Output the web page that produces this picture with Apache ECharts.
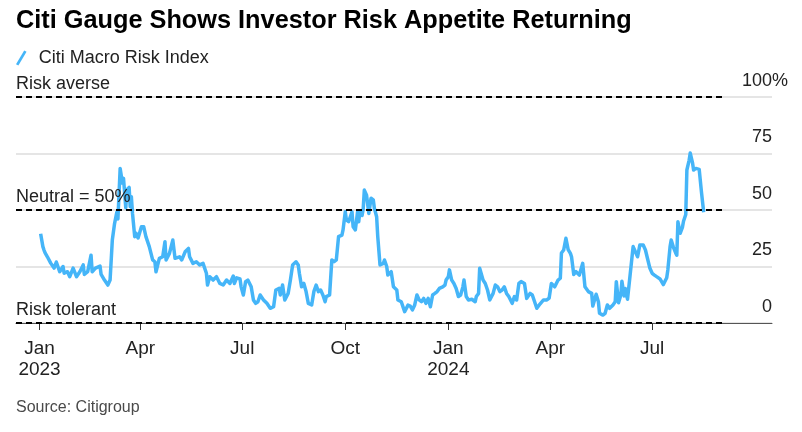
<!DOCTYPE html>
<html><head><meta charset="utf-8">
<script src="https://cdn.jsdelivr.net/npm/echarts@6/dist/echarts.min.js"></script>
<style>html,body{margin:0;padding:0;background:#fff}#c{width:802px;height:432px}</style>
</head><body><div id="c"></div>
<script>
const dates = [
'2023-01-02','2023-01-04','2023-01-05','2023-01-06','2023-01-08','2023-01-11','2023-01-14','2023-01-16','2023-01-19','2023-01-22','2023-01-23','2023-01-26','2023-01-28','2023-01-31',
'2023-02-03','2023-02-06','2023-02-09','2023-02-10','2023-02-13','2023-02-16','2023-02-17','2023-02-20','2023-02-24','2023-02-25','2023-02-28',
'2023-03-03','2023-03-05','2023-03-07','2023-03-09','2023-03-11','2023-03-12','2023-03-14','2023-03-16','2023-03-17','2023-03-19','2023-03-20','2023-03-22','2023-03-23','2023-03-24','2023-03-25','2023-03-27','2023-03-28','2023-03-30',
'2023-04-02','2023-04-04','2023-04-06','2023-04-09','2023-04-12','2023-04-14','2023-04-15','2023-04-18','2023-04-21','2023-04-23','2023-04-24','2023-04-27','2023-04-30',
'2023-05-02','2023-05-06','2023-05-08','2023-05-11','2023-05-14','2023-05-15','2023-05-18','2023-05-21','2023-05-24','2023-05-27','2023-05-30','2023-05-31',
'2023-06-02','2023-06-05','2023-06-08','2023-06-11','2023-06-14','2023-06-17','2023-06-20','2023-06-23','2023-06-24','2023-06-26','2023-06-29','2023-06-30',
'2023-07-02','2023-07-04','2023-07-06','2023-07-09','2023-07-11','2023-07-13','2023-07-15','2023-07-17','2023-07-20','2023-07-23','2023-07-26','2023-07-27','2023-07-29','2023-07-31',
'2023-08-03','2023-08-04','2023-08-06','2023-08-08','2023-08-11','2023-08-13','2023-08-15','2023-08-18','2023-08-20','2023-08-21','2023-08-23','2023-08-25','2023-08-27','2023-08-29',
'2023-09-01','2023-09-03','2023-09-05','2023-09-07','2023-09-09','2023-09-11','2023-09-13','2023-09-14','2023-09-17','2023-09-19','2023-09-21','2023-09-23','2023-09-25','2023-09-28','2023-09-29',
'2023-10-01','2023-10-02','2023-10-04','2023-10-05','2023-10-07','2023-10-08','2023-10-10','2023-10-12','2023-10-13','2023-10-14','2023-10-16','2023-10-17','2023-10-18','2023-10-20','2023-10-22','2023-10-24','2023-10-26','2023-10-27','2023-10-29','2023-10-30',
'2023-11-01','2023-11-04','2023-11-05','2023-11-07','2023-11-08','2023-11-11','2023-11-13','2023-11-16','2023-11-17','2023-11-20','2023-11-22','2023-11-23','2023-11-26','2023-11-28','2023-11-30',
'2023-12-02','2023-12-04','2023-12-06','2023-12-08','2023-12-10','2023-12-12','2023-12-14','2023-12-16','2023-12-18','2023-12-20','2023-12-22','2023-12-24','2023-12-27','2023-12-29','2023-12-30',
'2024-01-01','2024-01-02','2024-01-04','2024-01-06','2024-01-08','2024-01-10','2024-01-12','2024-01-14','2024-01-15','2024-01-17','2024-01-19','2024-01-22','2024-01-25','2024-01-26','2024-01-28','2024-01-29',
'2024-02-01','2024-02-03','2024-02-05','2024-02-07','2024-02-10','2024-02-12','2024-02-14','2024-02-16','2024-02-18','2024-02-20','2024-02-22','2024-02-24','2024-02-27','2024-02-29',
'2024-03-02','2024-03-04','2024-03-06','2024-03-09','2024-03-11','2024-03-14','2024-03-16','2024-03-20','2024-03-23','2024-03-26','2024-03-29','2024-03-31',
'2024-04-02','2024-04-05','2024-04-08','2024-04-10','2024-04-11','2024-04-13','2024-04-15','2024-04-17','2024-04-19','2024-04-20','2024-04-22','2024-04-24','2024-04-27','2024-04-30',
'2024-05-02','2024-05-05','2024-05-08','2024-05-09','2024-05-12','2024-05-14','2024-05-15','2024-05-18','2024-05-20','2024-05-22','2024-05-24','2024-05-27','2024-05-29','2024-05-30',
'2024-06-01','2024-06-03','2024-06-04','2024-06-06','2024-06-07','2024-06-09','2024-06-11','2024-06-12','2024-06-14','2024-06-16','2024-06-18','2024-06-20','2024-06-23','2024-06-25','2024-06-27','2024-06-29',
'2024-07-01','2024-07-03','2024-07-05','2024-07-08','2024-07-09','2024-07-11','2024-07-14','2024-07-15','2024-07-17','2024-07-18','2024-07-20','2024-07-22','2024-07-23','2024-07-24','2024-07-26','2024-07-28','2024-07-29','2024-07-31',
'2024-08-01','2024-08-03','2024-08-04','2024-08-06','2024-08-07','2024-08-09','2024-08-12','2024-08-13','2024-08-14','2024-08-16'
];
const values = [
39.5,33.8,32.3,31,29.3,26.5,24.3,27,22.7,25,22,22.7,20.5,24.3,
20.5,22.7,25.7,21.5,22.7,30,22.7,24.3,25.2,21.5,19,
16.8,19,36.7,44,49,46,68.4,62,64,51,59,60,51.5,55.9,48.6,38.2,39.8,37.6,
42.6,42.6,38.2,33.8,27.9,27.1,22.7,28.6,29.3,36,27.9,30.8,36.7,
28.6,29.3,27.9,31.5,33,29.3,26.4,27.1,25.7,26.4,22,16.8,
20.5,19,20.5,17.5,16.8,19,17.5,20.8,17.5,20,19.5,16,
12.4,18.3,19,16,10.2,8.7,9.4,12.4,10.2,8.7,6.5,5.8,7.2,14.6,
15.3,12.4,16.8,10.2,13.1,19,25.7,27.1,25.7,22,16,17.5,13.9,8.7,
8,14,16.8,13.9,14.6,12.4,9.4,11.7,12.4,27.9,27.1,27.9,38.2,38.9,41.2,
49.2,45.6,44.8,45.6,49.2,42.6,41.2,49.2,44.8,49.2,47.6,50.5,58.8,56.5,48.5,55.2,54.5,50.7,47,38.2,
25.7,26.4,27.9,25,21.2,22.7,16,14.6,10.2,9.4,6.5,5,7.9,7.5,5.8,
8,12.4,10.2,9.4,10.9,8.7,10.9,7.2,12.4,13.1,13.9,15.3,16,16.8,19,
20.5,23.5,19,17.5,15.3,11.7,12.4,16,19,11.7,10.2,10.5,9.4,11.7,13.1,24.2,
19,17.5,14.6,10.2,13.1,16.8,16,13.9,14.6,16,13.1,11.7,8.7,11.7,
10.2,17.5,18.3,17.5,10.9,13.1,12.4,6.5,8.5,10.2,10.2,11,
17.5,16,19,19.8,31,32.3,37.5,32.5,30.8,29.3,21.5,22.7,21.2,26.4,
16,13.9,13.1,7.5,12.7,9.4,4.3,3.5,4.3,8,6.5,8,9.4,18.3,
9,12.4,18.5,12,15.3,10.5,19.8,20.5,33.8,31.5,29.3,34.5,34.5,32.3,28.2,24.2,
22,21.2,20.5,19.5,19.8,17,20,23.5,33.8,36.7,33.5,31,30,44.8,39.7,42.3,45,48,
67.7,72,75.2,71,67.7,68.4,68,67.5,58,49
];
const quarterTicks = ['2023-01-01','2023-04-01','2023-07-01','2023-10-01','2024-01-01','2024-04-01','2024-07-01'];
const monthNames = ['Jan','Feb','Mar','Apr','May','Jun','Jul','Aug','Sep','Oct','Nov','Dec'];
const refLevels = [100, 50, 0];
const refLabels = ['Risk averse', 'Neutral = 50%', 'Risk tolerant'];
const xStart = '2022-12-11', xEnd = '2024-10-16', refEnd = '2024-09-04';
const titleText = 'Citi Gauge Shows Investor Risk Appetite Returning';
const seriesName = 'Citi Macro Risk Index';
const sourceText = 'Source: Citigroup';

const FONT = '"Liberation Sans", Arial, Helvetica, sans-serif';
const BLUE = '#45b5f8';
function toTs(s){ const p = s.split('-').map(Number); return Date.UTC(p[0], p[1]-1, p[2]); }
const quarterTs = quarterTicks.map(toTs);

const chart = echarts.init(document.getElementById('c'), null, {renderer:'canvas'});
const option = {
  animation: false,
  backgroundColor: '#fff',
  textStyle: {fontFamily: FONT},
  title: [
    {text: titleText, left: 16, top: 9, padding: 0,
     textStyle: {fontSize: 25.3, fontWeight: 'bold', color: '#000', fontFamily: FONT}},
    {text: sourceText, left: 16, top: 400, padding: 0,
     textStyle: {fontSize: 16, fontWeight: 'normal', color: '#4a4a4a', fontFamily: FONT}}
  ],
  legend: {
    left: 16, top: 49, padding: 0,
    itemWidth: 11, itemHeight: 15,
    icon: 'path://M0,15 L9,0 L11.6,1.5 L2.6,16.5 Z',
    textStyle: {fontSize: 18, color: '#222', fontFamily: FONT, padding: [0,0,0,7]},
    data: [seriesName]
  },
  grid: {left: 16, right: 30, top: 97, bottom: 109, containLabel: false},
  xAxis: {
    type: 'value', min: toTs(xStart), max: toTs(xEnd),
    axisLine: {show: true, lineStyle: {color: '#555', width: 1}},
    axisTick: {show: true, customValues: quarterTs, length: 7, lineStyle: {color: '#333', width: 1}},
    axisLabel: {
      customValues: quarterTs,
      formatter: function(v){ const d = new Date(v); const m = monthNames[d.getUTCMonth()]; return d.getUTCMonth() === 0 ? m + '\n' + d.getUTCFullYear() : m; },
      fontSize: 19, lineHeight: 21, color: '#222', margin: 15, fontFamily: FONT
    },
    splitLine: {show: false}
  },
  yAxis: {
    type: 'value', position: 'right', min: 0, max: 100, interval: 25,
    axisLine: {show: false}, axisTick: {show: false},
    splitLine: {show: true, lineStyle: {color: '#dcdcdc', width: 1.5}},
    axisLabel: {inside: true, margin: 0, verticalAlign: 'bottom', padding: [0,0,7,0],
      fontSize: 18, color: '#222', fontFamily: FONT}
  },
  series: [{
    name: seriesName, type: 'line',
    data: dates.map((d, i) => [toTs(d), values[i]]),
    showSymbol: false, symbol: 'none',
    lineStyle: {color: BLUE, width: 3.5, join: 'round'},
    itemStyle: {color: BLUE},
    markLine: {
      silent: true, symbol: ['none','none'], label: {show: false},
      lineStyle: {color: '#000', type: [6,4], width: 2},
      data: refLevels.map(v => [{coord: [toTs(xStart), v]}, {coord: [toTs(refEnd), v]}])
    }
  }]
};
chart.setOption(option);

const yPix = v => chart.convertToPixel({yAxisIndex: 0}, v);
const xPixStart = chart.convertToPixel({xAxisIndex: 0}, toTs(xStart));
const xPixEnd = chart.convertToPixel({xAxisIndex: 0}, toTs(xEnd));
const g = refLevels.map((v, i) => ({
  type: 'text', x: xPixStart, y: yPix(v) - 13, z: 100,
  style: {text: refLabels[i], font: '18px ' + FONT, fill: '#222', align: 'left', verticalAlign: 'middle'}
}));
g.push({type: 'text', x: xPixEnd, y: yPix(100) - 7, z: 100,
  style: {text: '%', font: '18px ' + FONT, fill: '#222', align: 'left', verticalAlign: 'bottom'}});
chart.setOption({graphic: g});
</script></body></html>
